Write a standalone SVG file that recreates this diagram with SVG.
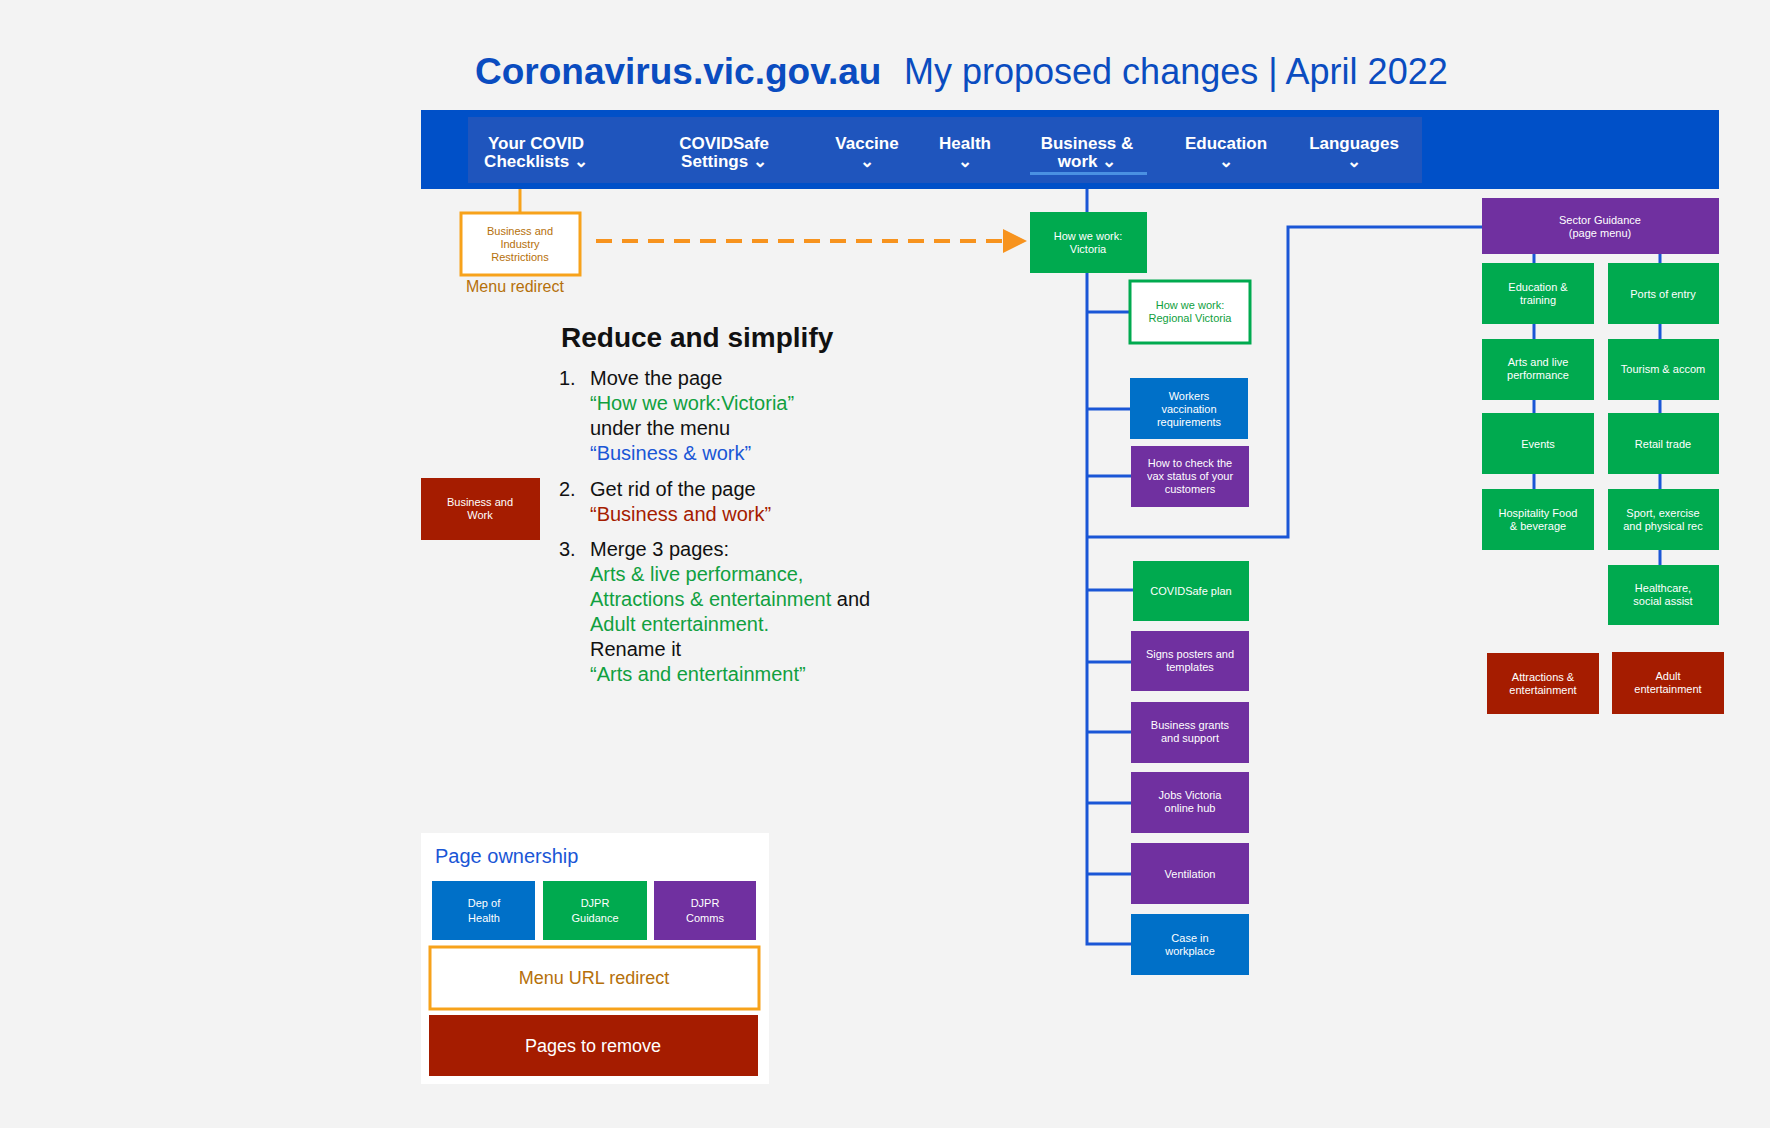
<svg xmlns="http://www.w3.org/2000/svg" width="1770" height="1128" viewBox="0 0 1770 1128">
<style>
text{font-family:"Liberation Sans",Arial,sans-serif}
.n{font-size:11px;fill:#fff;text-anchor:middle}
.g{fill:#00aa4f}.p{fill:#7030a0}.b{fill:#0070c8}.r{fill:#a51c00}
.nav{font-size:17px;font-weight:bold;fill:#fff;text-anchor:middle}
.c{stroke:#1a56d6;stroke-width:3;fill:none}
.t{font-size:20px;fill:#111}
.tg{font-size:20px;fill:#10a040}
</style>
<rect width="1770" height="1128" fill="#f3f3f3"/>
<text x="475" y="84" font-size="37" font-weight="bold" fill="#0a4cc0">Coronavirus.vic.gov.au</text>
<text x="904" y="84" font-size="36" fill="#0a4cc0">My proposed changes | April 2022</text>
<g id="navbar">
<rect x="421" y="110" width="1298" height="79" fill="#0050c8"/>
<rect x="468" y="117" width="954" height="66" fill="#1f55bd"/>
<text class="nav" x="536" y="149">Your COVID</text><text class="nav" x="536" y="167">Checklists ⌄</text>
<text class="nav" x="724" y="149">COVIDSafe</text><text class="nav" x="724" y="167">Settings ⌄</text>
<text class="nav" x="867" y="149">Vaccine</text><text class="nav" x="867" y="167">⌄</text>
<text class="nav" x="965" y="149">Health</text><text class="nav" x="965" y="167">⌄</text>
<text class="nav" x="1087" y="149">Business &amp;</text><text class="nav" x="1087" y="167">work ⌄</text>
<text class="nav" x="1226" y="149">Education</text><text class="nav" x="1226" y="167">⌄</text>
<text class="nav" x="1354" y="149">Languages</text><text class="nav" x="1354" y="167">⌄</text>
<rect x="1030" y="172" width="117" height="3" fill="#4a90e2"/>
</g>
<g id="connectors">
<line x1="520" y1="189" x2="520" y2="213" stroke="#f7a21b" stroke-width="3"/>
<line x1="596" y1="241" x2="1005" y2="241" stroke="#f7931e" stroke-width="4" stroke-dasharray="16,10"/>
<polygon points="1003,229 1027,241 1003,253" fill="#f7931e"/>
<polyline class="c" points="1087,189 1087,944 1133,944"/>
<line class="c" x1="1087" y1="312" x2="1130" y2="312"/>
<line class="c" x1="1087" y1="409" x2="1130" y2="409"/>
<line class="c" x1="1087" y1="476" x2="1131" y2="476"/>
<polyline class="c" points="1087,537 1288,537 1288,227 1482,227"/>
<line class="c" x1="1087" y1="590" x2="1133" y2="590"/>
<line class="c" x1="1087" y1="662" x2="1131" y2="662"/>
<line class="c" x1="1087" y1="732" x2="1131" y2="732"/>
<line class="c" x1="1087" y1="803" x2="1131" y2="803"/>
<line class="c" x1="1087" y1="874" x2="1131" y2="874"/>
<line class="c" x1="1534" y1="254" x2="1534" y2="489"/>
<line class="c" x1="1660" y1="254" x2="1660" y2="565"/>
</g>
<g id="redirect"><rect x="461" y="213" width="119" height="62" fill="#fff" stroke="#f7a21b" stroke-width="3"/>
<text class="n" fill="#b5700a" style="fill:#b5700a" x="520" y="235">Business and</text><text class="n" style="fill:#b5700a" x="520" y="248">Industry</text><text class="n" style="fill:#b5700a" x="520" y="261">Restrictions</text></g>
<text x="466" y="292" font-size="16" fill="#b5700a">Menu redirect</text>
<g id="victoria"><rect class="g" x="1030" y="212" width="117" height="61"/><text class="n" x="1088" y="240">How we work:</text><text class="n" x="1088" y="253">Victoria</text></g>
<g id="regional"><rect x="1130" y="281" width="120" height="62" fill="#fff" stroke="#00aa4f" stroke-width="3"/><text class="n" style="fill:#10a040" x="1190" y="309">How we work:</text><text class="n" style="fill:#10a040" x="1190" y="322">Regional Victoria</text></g>
<g id="workers"><rect class="b" x="1130" y="378" width="118" height="61"/><text class="n" x="1189" y="400">Workers</text><text class="n" x="1189" y="413">vaccination</text><text class="n" x="1189" y="426">requirements</text></g>
<g id="check"><rect class="p" x="1131" y="446" width="118" height="61"/><text class="n" x="1190" y="467">How to check the</text><text class="n" x="1190" y="480">vax status of your</text><text class="n" x="1190" y="493">customers</text></g>
<g id="plan"><rect class="g" x="1133" y="561" width="116" height="60"/><text class="n" x="1191" y="595">COVIDSafe plan</text></g>
<g id="signs"><rect class="p" x="1131" y="631" width="118" height="60"/><text class="n" x="1190" y="658">Signs posters and</text><text class="n" x="1190" y="671">templates</text></g>
<g id="grants"><rect class="p" x="1131" y="702" width="118" height="61"/><text class="n" x="1190" y="729">Business grants</text><text class="n" x="1190" y="742">and support</text></g>
<g id="jobs"><rect class="p" x="1131" y="772" width="118" height="61"/><text class="n" x="1190" y="799">Jobs Victoria</text><text class="n" x="1190" y="812">online hub</text></g>
<g id="vent"><rect class="p" x="1131" y="843" width="118" height="61"/><text class="n" x="1190" y="878">Ventilation</text></g>
<g id="case"><rect class="b" x="1131" y="914" width="118" height="61"/><text class="n" x="1190" y="942">Case in</text><text class="n" x="1190" y="955">workplace</text></g>
<g id="sector"><rect class="p" x="1482" y="198" width="237" height="56"/><text class="n" x="1600" y="224">Sector Guidance</text><text class="n" x="1600" y="237">(page menu)</text></g>
<g id="edu"><rect class="g" x="1482" y="263" width="112" height="61"/><text class="n" x="1538" y="291">Education &amp;</text><text class="n" x="1538" y="304">training</text></g>
<g id="ports"><rect class="g" x="1608" y="263" width="111" height="61"/><text class="n" x="1663" y="298">Ports of entry</text></g>
<g id="arts"><rect class="g" x="1482" y="339" width="112" height="61"/><text class="n" x="1538" y="366">Arts and live</text><text class="n" x="1538" y="379">performance</text></g>
<g id="tourism"><rect class="g" x="1608" y="339" width="111" height="61"/><text class="n" x="1663" y="373">Tourism &amp; accom</text></g>
<g id="events"><rect class="g" x="1482" y="413" width="112" height="61"/><text class="n" x="1538" y="448">Events</text></g>
<g id="retail"><rect class="g" x="1608" y="413" width="111" height="61"/><text class="n" x="1663" y="448">Retail trade</text></g>
<g id="hosp"><rect class="g" x="1482" y="489" width="112" height="61"/><text class="n" x="1538" y="517">Hospitality Food</text><text class="n" x="1538" y="530">&amp; beverage</text></g>
<g id="sport"><rect class="g" x="1608" y="489" width="111" height="61"/><text class="n" x="1663" y="517">Sport, exercise</text><text class="n" x="1663" y="530">and physical rec</text></g>
<g id="health"><rect class="g" x="1608" y="565" width="111" height="60"/><text class="n" x="1663" y="592">Healthcare,</text><text class="n" x="1663" y="605">social assist</text></g>
<g id="attr"><rect class="r" x="1487" y="653" width="112" height="61"/><text class="n" x="1543" y="681">Attractions &amp;</text><text class="n" x="1543" y="694">entertainment</text></g>
<g id="adult"><rect class="r" x="1612" y="652" width="112" height="62"/><text class="n" x="1668" y="680">Adult</text><text class="n" x="1668" y="693">entertainment</text></g>
<g id="bw"><rect class="r" x="421" y="478" width="119" height="62"/><text class="n" x="480" y="506">Business and</text><text class="n" x="480" y="519">Work</text></g>
<g id="notes">
<text x="561" y="347" font-size="28" font-weight="bold" fill="#111">Reduce and simplify</text>
<text class="t" x="559" y="385">1.</text><text class="t" x="590" y="385">Move the page</text>
<text class="tg" x="590" y="410">“How we work:Victoria”</text>
<text class="t" x="590" y="435">under the menu</text>
<text x="590" y="460" font-size="20" fill="#1a56d6">“Business &amp; work”</text>
<text class="t" x="559" y="496">2.</text><text class="t" x="590" y="496">Get rid of the page</text>
<text x="590" y="521" font-size="20" fill="#a51c00">“Business and work”</text>
<text class="t" x="559" y="556">3.</text><text class="t" x="590" y="556">Merge 3 pages:</text>
<text class="tg" x="590" y="581">Arts &amp; live performance,</text>
<text x="590" y="606" font-size="20"><tspan fill="#10a040">Attractions &amp; entertainment</tspan><tspan fill="#111"> and</tspan></text>
<text class="tg" x="590" y="631">Adult entertainment.</text>
<text class="t" x="590" y="656">Rename it</text>
<text class="tg" x="590" y="681">“Arts and entertainment”</text>
</g>
<g id="legend">
<rect x="421" y="833" width="348" height="251" fill="#fff"/>
<text x="435" y="863" font-size="20" fill="#1a56d6">Page ownership</text>
<rect class="b" x="432" y="881" width="103" height="59"/><text class="n" x="484" y="907">Dep of</text><text class="n" x="484" y="922">Health</text>
<rect class="g" x="543" y="881" width="104" height="59"/><text class="n" x="595" y="907">DJPR</text><text class="n" x="595" y="922">Guidance</text>
<rect class="p" x="654" y="881" width="102" height="59"/><text class="n" x="705" y="907">DJPR</text><text class="n" x="705" y="922">Comms</text>
<rect x="430" y="947" width="329" height="62" fill="#fff" stroke="#f7a21b" stroke-width="3"/>
<text x="594" y="984" font-size="18" fill="#b5700a" text-anchor="middle">Menu URL redirect</text>
<rect class="r" x="429" y="1015" width="329" height="61"/>
<text x="593" y="1052" font-size="18" fill="#fff" text-anchor="middle">Pages to remove</text>
</g>
</svg>
